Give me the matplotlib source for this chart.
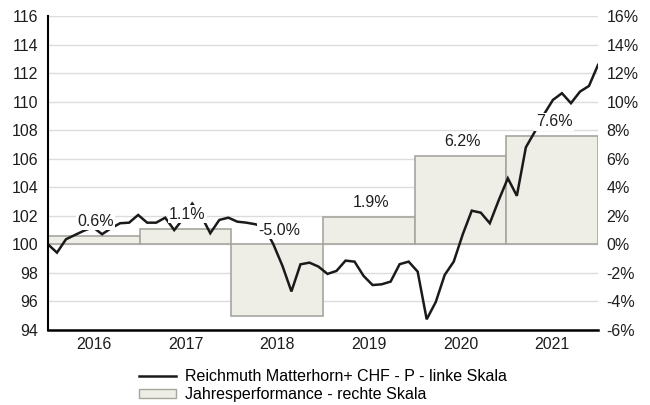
import matplotlib
matplotlib.use("Agg")
import matplotlib.pyplot as plt
from matplotlib.lines import Line2D
from matplotlib.patches import Patch
import numpy as np

plt.rcParams['font.family'] = ['Liberation Sans', 'DejaVu Sans']

years = ["2016", "2017", "2018", "2019", "2020", "2021"]
perf = [0.6, 1.1, -5.0, 1.9, 6.2, 7.6]

# fund price, indexed to 100 at start
price = [
    100.0, 99.42, 100.36, 100.66, 100.96, 101.2, 100.71, 101.13, 101.48, 101.52,
    102.06, 101.52, 101.52, 101.87, 101.0, 101.8, 102.85, 102.0, 100.78, 101.71,
    101.87, 101.59, 101.52, 101.41, 101.2, 100.0, 98.5, 96.7, 98.6, 98.72,
    98.44, 97.93, 98.14, 98.86, 98.79, 97.79, 97.15, 97.2, 97.39, 98.61,
    98.79, 98.09, 94.75, 95.95, 97.86, 98.79, 100.7, 102.36, 102.22, 101.48,
    103.11, 104.63, 103.4, 106.8, 107.9, 109.1, 110.12, 110.59, 109.89, 110.7,
    111.1, 112.57,
]

bar_fill = "#eeede6"
bar_edge = "#a6a59e"
line_col = "#1a1a1a"
txt_col = "#1e1e1e"
fs = 11.5

fig = plt.figure(figsize=(6.5, 4.05), dpi=100)
ax = fig.add_axes([0.0738, 0.1852, 0.8462, 0.7753])

xs = np.arange(len(years))
ax.bar(xs, perf, width=1.0, bottom=100, color=bar_fill, edgecolor=bar_edge,
       linewidth=1.2, zorder=2)

px = np.linspace(-0.5, 5.5, len(price))
ax.plot(px, price, color=line_col, linewidth=1.8, zorder=3, solid_joinstyle="miter")

for x, v in zip(xs, perf):
    ax.text(x + 0.02, 100 + max(v, 0) + 1.0, f"{v:.1f}%", ha="center", va="center",
            fontsize=fs, color=txt_col, zorder=4,
            bbox=dict(facecolor="white", edgecolor="none", pad=1.0))

ax.set_xlim(-0.5, 5.5)
ax.set_ylim(94, 116)
ax.set_yticks(np.arange(94, 117, 2))
ax.set_xticks(xs)
ax.set_xticklabels(years)
ax.yaxis.grid(True, color="#dcdcdc", linewidth=1.0)
ax.set_axisbelow(True)

for s in ["top", "right"]:
    ax.spines[s].set_visible(False)
ax.spines["left"].set_linewidth(1.5)
ax.spines["bottom"].set_linewidth(1.8)
ax.spines["left"].set_zorder(5)
ax.spines["bottom"].set_zorder(5)
ax.tick_params(axis="both", length=0, labelsize=fs, colors=txt_col)
ax.tick_params(axis="y", pad=7)
ax.tick_params(axis="x", pad=5)

ax2 = ax.twinx()
ax2.set_ylim(-6, 16)
ax2.set_yticks(np.arange(-6, 17, 2))
ax2.set_yticklabels([f"{t}%" for t in range(-6, 17, 2)])
for s in ax2.spines.values():
    s.set_visible(False)
ax2.tick_params(axis="y", length=0, labelsize=fs, colors=txt_col, pad=6)

handles = [
    Line2D([0], [0], color=line_col, linewidth=1.8),
    Patch(facecolor=bar_fill, edgecolor=bar_edge, linewidth=1.0),
]
labels = ["Reichmuth Matterhorn+ CHF - P - linke Skala",
          "Jahresperformance - rechte Skala"]
fig.legend(handles, labels, loc="upper center",
           bbox_to_anchor=(0.497, 1 - 369 / 405), bbox_transform=fig.transFigure,
           frameon=False, fontsize=fs, handlelength=2.3, handleheight=0.45,
           labelspacing=0.2, borderaxespad=0, borderpad=0, handletextpad=0.6)

fig.savefig("out.png", dpi=100)
